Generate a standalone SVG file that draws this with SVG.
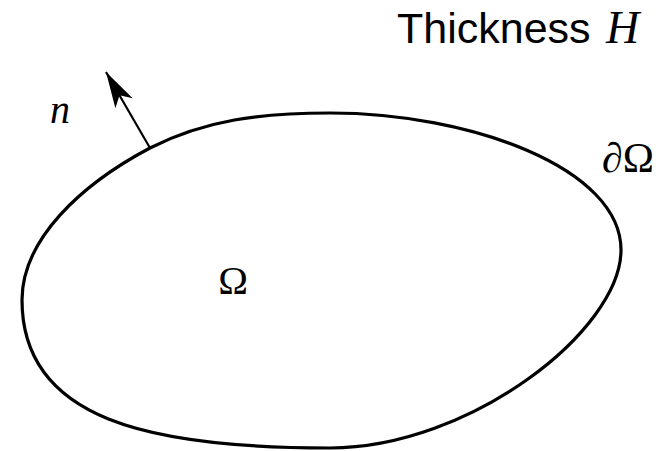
<svg xmlns="http://www.w3.org/2000/svg" width="661" height="451" viewBox="0 0 661 451">
<style>
.serif{font-family:"Liberation Serif","Times New Roman",serif;fill:#000}
.sans{font-family:"Liberation Sans",Arial,sans-serif;fill:#000}
.outline{fill:none;stroke:#000;stroke-width:3.2}
</style>
<defs>
<marker id="head" markerUnits="userSpaceOnUse" viewBox="-38 -11 40 22" refX="0" refY="0" markerWidth="40" markerHeight="22" orient="auto">
<path d="M0,0 L-36,-10 L-27,0 L-36,10 Z" fill="#000"/>
</marker>
</defs>
<rect width="661" height="451" fill="#fff"/>
<g id="title">
<text class="sans" x="397" y="43" font-size="43">Thickness</text>
<text class="serif" x="606" y="43" font-size="46" font-style="italic">H</text>
</g>
<g id="domain">
<path class="outline" d="M150,148 C205,120 260,113 330,113 C470,113 621,168 621,250 C621,330 470,448 330,448 C150,448 22,420 22,300 C22,240 80,185 150,148 Z"/>
<text class="serif" x="233" y="294" font-size="40" text-anchor="middle">Ω</text>
</g>
<g id="boundary-label">
<text class="serif" x="602" y="172" font-size="42">∂Ω</text>
</g>
<g id="connectors">
<line x1="150" y1="148" x2="106" y2="72" stroke="#000" stroke-width="2.2" marker-end="url(#head)"/>
</g>
<g id="normal-label">
<text class="serif" x="50" y="123" font-size="40" font-style="italic">n</text>
</g>
</svg>
